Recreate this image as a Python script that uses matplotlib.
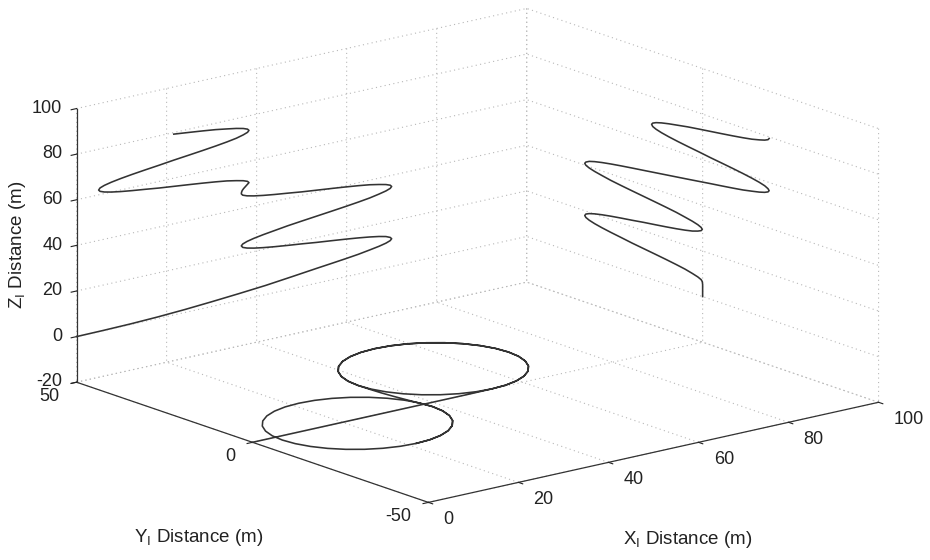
import numpy as np
import matplotlib
matplotlib.use("Agg")
import matplotlib.pyplot as plt

plt.rcParams['font.family'] = ['Liberation Sans', 'DejaVu Sans']
plt.rcParams['mathtext.fontset'] = 'custom'
plt.rcParams['mathtext.rm'] = 'Liberation Sans'
plt.rcParams['mathtext.it'] = 'Liberation Sans:italic'
plt.rcParams['axes.unicode_minus'] = False

# ---- data: trajectory read from the three projections ----
# straight climb along y = 0
x_climb = [0, 6, 12, 18, 24, 30, 36, 42, 48]
y_climb = [0, 0, 0, 0, 0, 0, 0, 0, 0]
z_climb = [0, 0.1, 0.3, 0.7, 1.3, 2.1, 3.0, 4.0, 5.3]

# first (counter-clockwise) loop, 1.75 turns
x_loop1 = [53.3, 56.56, 59.69, 62.58, 65.11, 67.19, 68.73, 69.68, 70.0, 69.68, 68.73, 67.19,
           65.11, 62.58, 59.69, 56.56, 53.3, 50.04, 46.91, 44.02, 41.49, 39.41, 37.87, 36.92,
           36.6, 36.92, 37.87, 39.41, 41.49, 44.02, 46.91, 50.04,
           53.3, 56.56, 59.69, 62.58, 65.11, 67.19, 68.73, 69.68, 70.0, 69.68, 68.73, 67.19,
           65.11, 62.58, 59.69, 56.56, 53.3, 50.04, 46.91, 44.02, 41.49, 39.41, 37.87, 36.92,
           36.6]
y_loop1 = [0.1, 0.42, 1.37, 2.91, 4.99, 7.52, 10.41, 13.54, 16.8, 20.06, 23.19, 26.08,
           28.61, 30.69, 32.23, 33.18, 33.5, 33.18, 32.23, 30.69, 28.61, 26.08, 23.19, 20.06,
           16.8, 13.54, 10.41, 7.52, 4.99, 2.91, 1.37, 0.42,
           0.1, 0.42, 1.37, 2.91, 4.99, 7.52, 10.41, 13.54, 16.8, 20.06, 23.19, 26.08,
           28.61, 30.69, 32.23, 33.18, 33.5, 33.18, 32.23, 30.69, 28.61, 26.08, 23.19, 20.06,
           16.8]
z_loop1 = [6.5, 7.2, 7.9, 8.6, 9.4, 10.1, 10.8, 11.5, 12.2, 12.9, 13.7, 14.4,
           15.1, 15.8, 16.5, 17.2, 17.9, 18.7, 19.4, 20.1, 20.8, 21.5, 22.2, 22.9,
           23.7, 24.4, 25.1, 25.8, 26.5, 27.2, 28.0, 28.7,
           29.4, 30.1, 30.8, 31.5, 32.2, 33.0, 33.7, 34.4, 35.1, 35.8, 36.5, 37.2,
           38.0, 38.7, 39.4, 40.1, 40.8, 41.5, 42.3, 43.0, 43.7, 44.4, 45.1, 45.8,
           46.5]

# crossover between the loops
x_cross = [36.65, 36.8, 37.1, 37.5, 37.9]
y_cross = [13.6, 10.4, 7.2, 4.0, 0.9]
z_cross = [47.2, 47.9, 48.6, 49.3, 50.0]

# second (clockwise) loop, 1.25 turns
x_loop2 = [38.3, 37.98, 37.03, 35.49, 33.41, 30.88, 27.99, 24.86, 21.6, 18.34, 15.21, 12.32,
           9.79, 7.71, 6.17, 5.22, 4.9, 5.22, 6.17, 7.71, 9.79, 12.32, 15.21, 18.34,
           21.6, 24.86, 27.99, 30.88, 33.41, 35.49, 37.03, 37.98,
           38.3, 37.98, 37.03, 35.49, 33.41, 30.88, 27.99, 24.86, 21.6]
y_loop2 = [-2.2, -5.46, -8.59, -11.48, -14.01, -16.09, -17.63, -18.58, -18.9, -18.58, -17.63,
           -16.09, -14.01, -11.48, -8.59, -5.46, -2.2, 1.06, 4.19, 7.08, 9.61, 11.69, 13.23,
           14.18, 14.5, 14.18, 13.23, 11.69, 9.61, 7.08, 4.19, 1.06,
           -2.2, -5.46, -8.59, -11.48, -14.01, -16.09, -17.63, -18.58, -18.9]
z_loop2 = [50.7, 51.4, 52.1, 52.8, 53.6, 54.3, 55.0, 55.7, 56.4, 57.1, 57.9, 58.6,
           59.3, 60.0, 60.7, 61.4, 62.1, 62.9, 63.6, 64.3, 65.0, 65.7, 66.4, 67.1,
           67.9, 68.6, 69.3, 70.0, 70.7, 71.4, 72.2, 72.9,
           73.6, 74.3, 75.0, 75.7, 76.4, 77.2, 77.9, 78.6, 79.3]

x_lim = (0, 100)
y_lim = (-50, 50)
z_lim = (-20, 100)
x_ticks = [0, 20, 40, 60, 80, 100]
y_ticks = [-50, 0, 50]
z_ticks = [-20, 0, 20, 40, 60, 80, 100]

x_label = 'X$_\\mathregular{I}$ Distance (m)'
y_label = 'Y$_\\mathregular{I}$ Distance (m)'
z_label = 'Z$_\\mathregular{I}$ Distance (m)'

# ---- figure ----
fig = plt.figure(figsize=(9.3, 5.6), dpi=100)
ax = fig.add_axes([0.0, -0.3089, 1.0, 1.6607], projection='3d', proj_type='ortho')
ax.set_box_aspect((577, 559, 284), zoom=0.8916)
ax.view_init(elev=16.0, azim=-128.9)
ax.patch.set_alpha(0)

x = np.array(x_climb + x_loop1 + x_cross + x_loop2)
y = np.array(y_climb + y_loop1 + y_cross + y_loop2)
z = np.array(z_climb + z_loop1 + z_cross + z_loop2)
line_kw = dict(color='#333333', lw=1.15)
ax.plot(x, np.full_like(x, y_lim[1]), z, **line_kw)     # X-Z projection (back wall)
ax.plot(np.full_like(y, x_lim[1]), y, z, **line_kw)     # Y-Z projection (side wall)
ax.plot(x, y, np.full_like(z, z_lim[0]), **line_kw)     # X-Y projection (floor)

ax.set_xlim(*x_lim)
ax.set_ylim(*y_lim)
ax.set_zlim(*z_lim)
ax.set_xticks(x_ticks)
ax.set_yticks(y_ticks)
ax.set_zticks(z_ticks)

for axis in (ax.xaxis, ax.yaxis, ax.zaxis):
    axis.set_pane_color((1, 1, 1, 0))
    axis._axinfo['grid'].update(color='#b8b8b8', linewidth=0.8, linestyle=(0, (1, 3)))
    axis._axinfo['tick']['inward_factor'] = 0.15
    axis._axinfo['tick']['outward_factor'] = 0.0
    axis.line.set_color('#333333')
    axis.line.set_linewidth(0.9)
ax.tick_params(labelsize=13, colors='#222222')
ax.xaxis.set_tick_params(pad=7.0)
ax.yaxis.set_tick_params(pad=5.0)
ax.zaxis.set_tick_params(pad=-1.8)
ax.grid(True)

for t in ax.get_xticklabels():
    t.set_ha('left')
    t.set_va('center')
for t in ax.get_yticklabels():
    t.set_ha('right')
    t.set_va('center')
for t in ax.get_zticklabels():
    t.set_ha('right')
    t.set_va('center')

fig.text(688 / 930, 1 - 539 / 560, x_label, ha='center', va='center', fontsize=13.5, color='#222222')
fig.text(199 / 930, 1 - 537 / 560, y_label, ha='center', va='center', fontsize=13.5, color='#222222')
fig.text(18 / 930, 1 - 245 / 560, z_label, ha='center', va='center', fontsize=13.5, color='#222222',
         rotation=90)

fig.savefig('out.png', dpi=100, facecolor='white')
